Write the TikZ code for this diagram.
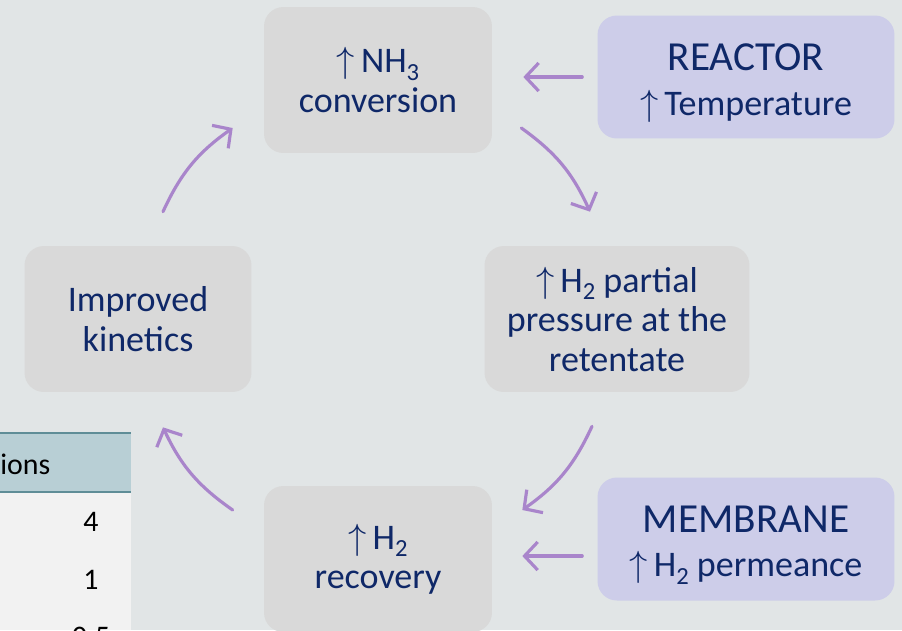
\documentclass[tikz,border=0pt]{standalone}
\usepackage{fontspec}
\setmainfont{Carlito}
\usetikzlibrary{arrows.meta,calc}

\definecolor{bgcol}{HTML}{E1E5E6}
\definecolor{boxgray}{HTML}{D9D9D9}
\definecolor{boxlilac}{HTML}{CDCDE9}
\definecolor{navy}{HTML}{0F2868}
\definecolor{flowpurple}{HTML}{A985CB}
\definecolor{headblue}{HTML}{B8CFD5}
\definecolor{headline}{HTML}{5F8D97}
\definecolor{cellgray}{HTML}{F2F2F2}

\newcommand{\up}{$\uparrow$\,}
\newcommand{\lowsub}[1]{\raisebox{-0.45ex}{\fontsize{14}{14}\selectfont #1}}

\begin{document}
\begin{tikzpicture}[x=0.02cm,y=-0.02cm,
  cyc/.style={fill=boxgray,rounded corners=11pt,inner sep=0pt,
    minimum width=4.56cm,minimum height=2.92cm,align=center,text=navy,
    font=\fontsize{20.5}{22.5}\selectfont},
  lever/.style={fill=boxlilac,rounded corners=11pt,inner sep=0pt,
    minimum width=5.94cm,minimum height=2.46cm,align=center,text=navy,
    font=\fontsize{20.5}{25.5}\selectfont},
  flow/.style={flowpurple,line width=1.8pt,line cap=round,
    -{Straight Barb[length=7.5pt,width=16pt,line width=1.8pt]}},
  cell/.style={inner sep=0pt,text=black,font=\fontsize{17}{19}\selectfont}]

% background and page
\fill[bgcol] (0,0) rectangle (902,630);
\useasboundingbox (0,0) rectangle (902,630);

% cut-off table at the bottom left
\fill[headblue] (0,433) rectangle (131,492);
\fill[cellgray] (0,492) rectangle (131,630);
\draw[headline,line width=1.3pt] (0,433) -- (131,433);
\draw[headline,line width=1.3pt] (0,492) -- (131,492);
\node[cell,anchor=west,font=\fontsize{17}{20}\selectfont] (hdr) at (0,464) {ions};
\node[cell] (v1) at (91,522) {4};
\node[cell] (v2) at (91,580) {1};
\node[cell] (v3) at (91,637) {0.5};

% cycle
\node[cyc] (nh3) at (378,80) {\up NH\lowsub{3}\\conversion};
\node[cyc,minimum width=5.3cm] (h2p) at (617,319) {\up H\lowsub{2} partial\\pressure at the\\retentate};
\node[cyc] (rec) at (378,559) {\up H\lowsub{2}\\recovery};
\node[cyc,minimum width=4.54cm] (kin) at (138,319) {Improved\\kinetics};

% levers
\node[lever] (reactor) at (746,77) {\rule{0pt}{22pt}{\fontsize{23.5}{26}\selectfont REACTOR}\\\up Temperature};
\node[lever] (membrane) at (746,539) {\rule{0pt}{22pt}{\fontsize{23.5}{26}\selectfont MEMBRANE}\\\up H\lowsub{2} permeance};

\draw[flow] ($(reactor.west)+(-15,0)$) -- ($(nh3.east |- reactor.west)+(31,0)$);
\draw[flow] ($(membrane.west)+(-15,17)$) -- ($(rec.east |- membrane.west)+(30,17)$);

\draw[flow] ($(nh3.east)+(29,48)$) to[bend left=15] ($(h2p.north)+(-27,-34)$);
\draw[flow] ($(h2p.south)+(-25,34)$) to[bend left=15] ($(rec.east)+(30,-49)$);
\draw[flow] ($(rec.west)+(-31,-49)$) to[bend left=15] ($(kin.south)+(25,35)$);
\draw[flow] ($(kin.north)+(25,-34)$) to[bend left=15] ($(nh3.west)+(-31,48)$);

\end{tikzpicture}
\end{document}
